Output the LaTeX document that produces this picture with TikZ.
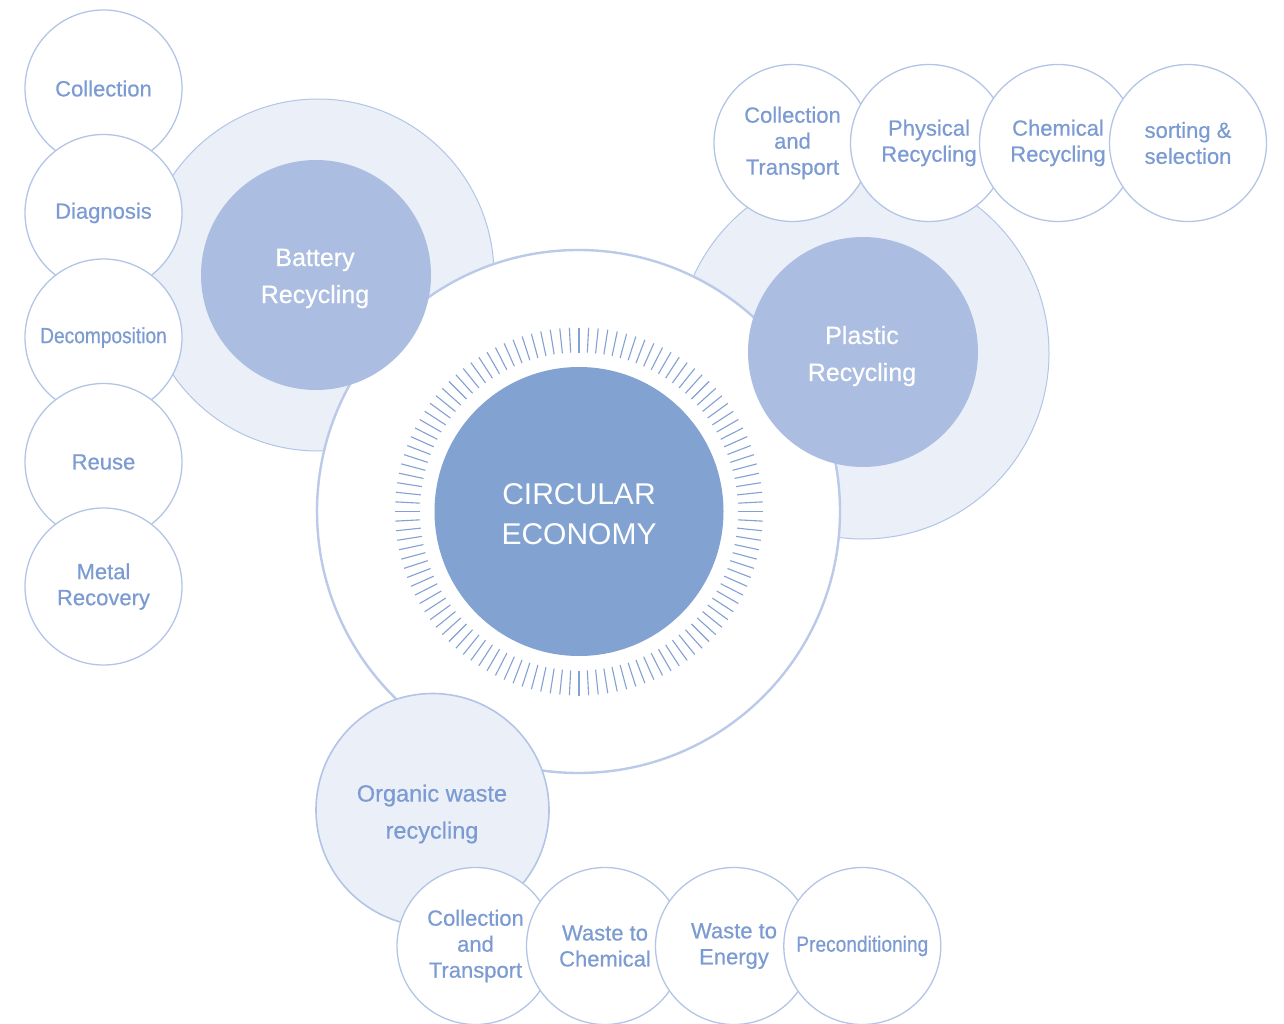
\documentclass[tikz,border=0pt]{standalone}
\usepackage{fontspec}
\setmainfont[FakeBold=0.5]{Liberation Sans}
\newfontfamily\lightfont{Liberation Sans}
\usepackage{graphicx}
\definecolor{lightfill}{HTML}{EAEFF8}
\definecolor{ringc}{HTML}{B3C5E6}
\definecolor{mainring}{HTML}{BACAE8}
\definecolor{midfill}{HTML}{ABBDE0}
\definecolor{corefill}{HTML}{82A2D2}
\definecolor{txtc}{HTML}{7B9BD2}
\definecolor{tickc}{HTML}{82A2D2}
\tikzset{
  leaf/.style={circle, draw=ringc, line width=1.3pt, fill=white, minimum size=157pt,
    inner sep=0pt, text=txtc, align=center, font=\fontsize{22}{26}\selectfont},
  halo/.style={circle, draw=ringc, line width=1pt, fill=lightfill, inner sep=0pt},
  hub/.style={circle, fill=midfill, minimum size=230pt, inner sep=0pt, text=white,
    align=center, font=\fontsize{25}{37}\selectfont},
  mainc/.style={circle, draw=mainring, line width=2.4pt, fill=white, minimum size=523pt, inner sep=0pt},
  corec/.style={circle, fill=corefill, minimum size=289pt, inner sep=0pt, text=white,
    align=center, font=\lightfont\fontsize{30}{40}\selectfont},
  organicc/.style={circle, draw=ringc, line width=1.6pt, fill=lightfill, minimum size=233pt,
    inner sep=0pt, text=txtc, align=center, font=\fontsize{23.5}{37}\selectfont},
  tickline/.style={draw=tickc, line width=1.1pt},
  low/.style={text depth=0pt}
}
\begin{document}
\begin{tikzpicture}[x=1pt,y=-1pt]
\useasboundingbox (0,0) rectangle (1284,1024);
% halos
\node[halo, minimum size=352pt] (bhalo) at (318,275) {};
\node[halo, minimum size=372pt] (phalo) at (863,353) {};
% main circle
\node[mainc] (main) at (578.5,511.5) {};
\coordinate (cen) at (579,511.5);
\foreach \a in {0,3,...,357}
  \draw[tickline] ([shift={(\a:159)}]cen) -- ([shift={(\a:184)}]cen);
\node[corec] (core) at (cen) {};
\node[text=white, align=center, font=\lightfont\fontsize{30}{40}\selectfont] (coretxt) at (579,514.5) {CIRCULAR\\ECONOMY};
% hubs
\node[hub] (battery) at (316,275) {};
\node[text=white, align=center, font=\fontsize{25}{37}\selectfont] (batterytxt) at (315,278.5) {Battery\\Recycling};
\node[hub] (plastic) at (863,352) {};
\node[text=white, align=center, font=\fontsize{25}{37}\selectfont] (plastictxt) at (862,356) {Plastic\\Recycling};
\node[organicc] (organic) at (432.5,810) {};
\node[text=txtc, align=center, font=\fontsize{23.5}{37}\selectfont] (organictxt) at (432,814) {Organic waste\\recycling};
% left column
\node[leaf] (l1) at (103.5,88.5) {Collection};
\node[leaf] (l2) at (103.5,213) {Diagnosis};
\node[leaf] (l3) at (103.5,337.5) {\scalebox{0.87}[1]{Decomposition}};
\node[leaf] (l4) at (103.5,462) {Reuse};
\node[leaf] (l5) at (103.5,586.5) {Metal\\Recovery};
% top row
\node[leaf] (t1) at (792.5,143) {Collection\\and\\Transport};
\node[leaf] (t2) at (929,143) {Physical\\Recycling};
\node[leaf] (t3) at (1058,143) {Chemical\\Recycling};
\node[leaf] (t4) at (1188,143) {sorting \&\\selection};
% bottom row
\node[leaf] (b1) at (475.5,946) {Collection\\and\\Transport};
\node[leaf] (b2) at (605,946) {Waste to\\Chemical};
\node[leaf] (b3) at (734,946) {Waste to\\Energy};
\node[leaf] (b4) at (862.3,946) {\scalebox{0.87}[1]{Preconditioning}};
\end{tikzpicture}
\end{document}
